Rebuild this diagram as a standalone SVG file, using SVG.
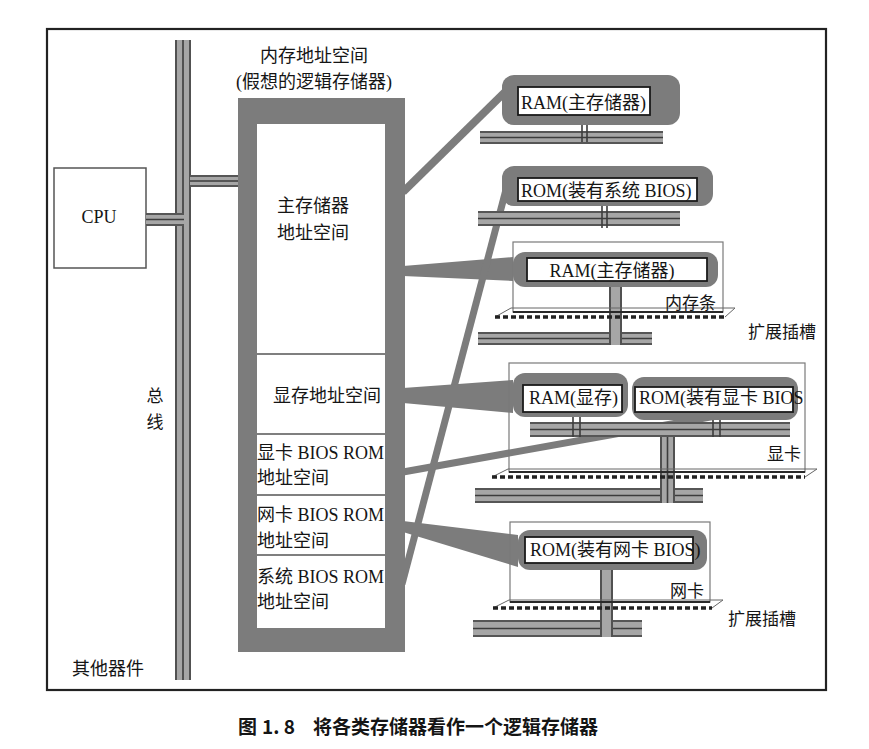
<svg xmlns="http://www.w3.org/2000/svg" width="869" height="749" viewBox="0 0 869 749">
<style>
.t{font-family:"Liberation Serif","Noto Sans CJK SC",serif;font-size:18px;fill:#151515}
.s{font-size:17px}
.cap{font-family:"Noto Sans CJK SC","Noto Sans",sans-serif;font-size:19px;font-weight:bold;fill:#151515}
.band{fill:#a6a6a6}
.dl{stroke:#3c3c3c;stroke-width:1.6;fill:none}
.grey{fill:#7c7c7c}
.gl{stroke:#7c7c7c;fill:none;stroke-linecap:butt}
.blob{fill:#7c7c7c}
.lab{fill:#fff;stroke:#1a1a1a;stroke-width:1.8}
.box{fill:none;stroke:#7a7a7a;stroke-width:1.2}
.edge{stroke:#2a2a2a;stroke-width:2}
.dash{stroke:#222;stroke-width:3.5;stroke-dasharray:5 3;fill:none}
.thin{stroke:#666;stroke-width:1;fill:none}
.div{stroke:#555;stroke-width:1.5}
</style>
<rect width="869" height="749" fill="#fff"/>
<rect x="47" y="29" width="779" height="661" fill="#fff" stroke="#222" stroke-width="2.2"/>

<!-- system bus -->
<g id="bus">
<rect class="band" x="175" y="40" width="16" height="640"/>
<path class="dl" d="M176,40V680M183,40V680M190,40V680"/>
<rect class="band" x="190" y="175" width="50" height="12"/>
<path class="dl" d="M190,176H240M190,181H240M190,186H240"/>
</g>

<g id="cpu">
<rect x="54" y="168" width="92" height="100" fill="#fff" stroke="#555" stroke-width="1.5"/>
<text class="t" x="99" y="223" text-anchor="middle">CPU</text>
</g>

<g id="connectors">
<!-- CPU to bus -->
<rect class="band" x="146" y="213" width="38" height="13"/>
<path class="dl" d="M146,214H184M146,219.5H184M146,225H184"/>
<!-- logical space to devices -->
<line class="gl" x1="403" y1="192" x2="505" y2="92" stroke-width="8"/>
<polygon class="grey" points="403,266 513,257 513,281 403,276"/>
<line class="gl" x1="507" y1="186" x2="402" y2="584" stroke-width="7"/>
<polygon class="grey" points="403,388 513,380 513,413 403,403"/>
<line class="gl" x1="403" y1="472" x2="716" y2="416" stroke-width="7"/>
<polygon class="grey" points="403,521 518,535 518,567 403,532"/>
</g>

<g id="logical-memory">
<path class="grey" fill-rule="evenodd" d="M238,98H405V652H238Z M257,124V628H385V124Z"/>
<path class="div" d="M257,354H385M257,434H385M257,495H385M257,555H385"/>
</g>

<g id="label-mem">
<text class="t" x="314" y="62" text-anchor="middle">内存地址空间</text>
<text class="t" x="314" y="88" text-anchor="middle">(假想的逻辑存储器)</text>
</g>
<g id="seg-main"><text class="t" x="313" y="212" text-anchor="middle">主存储器</text><text class="t" x="313" y="239" text-anchor="middle">地址空间</text></g>
<g id="seg-vram"><text class="t" x="273" y="402">显存地址空间</text></g>
<g id="seg-vbios"><text class="t" x="257" y="459">显卡 BIOS ROM</text><text class="t" x="257" y="484">地址空间</text></g>
<g id="seg-nbios"><text class="t" x="257" y="521">网卡 BIOS ROM</text><text class="t" x="257" y="547">地址空间</text></g>
<g id="seg-sbios"><text class="t" x="257" y="583">系统 BIOS ROM</text><text class="t" x="257" y="608">地址空间</text></g>

<g id="bus-label"><text class="t s" x="155" y="402" text-anchor="middle">总</text><text class="t s" x="155" y="428" text-anchor="middle">线</text></g>
<g id="others"><text class="t" x="72" y="675">其他器件</text></g>

<!-- RAM on board -->
<g id="ram-main">
<rect class="band" x="480" y="131" width="183" height="13"/>
<path class="dl" d="M480,132H663M480,137.5H663M480,143H663"/>
<path class="dl" d="M582,114V142M587,114V142"/>
<rect class="blob" x="502" y="75" width="178" height="50" rx="12"/>
<rect class="lab" x="518" y="87" width="132" height="28"/>
<text class="t" x="521" y="109">RAM(主存储器)</text>
</g>

<g id="rom-sys">
<rect class="band" x="478" y="211" width="202" height="15"/>
<path class="dl" d="M478,212H680M478,218.5H680M478,225H680"/>
<path class="dl" d="M602,200V228M607,200V228"/>
<rect class="blob" x="502" y="166" width="211" height="40" rx="12"/>
<rect class="lab" x="518" y="178" width="179" height="23"/>
<text class="t" x="521" y="197">ROM(装有系统 BIOS)</text>
</g>

<g id="dimm">
<rect class="band" x="478" y="332" width="174" height="13"/>
<path class="dl" d="M478,333H652M478,338.5H652M478,344H652"/>
<rect class="band" x="609" y="287" width="13" height="58"/>
<path class="dl" d="M610,287V345M621,287V345"/>
<rect class="box" x="513" y="242" width="210" height="70"/>
<path class="thin" d="M495,317L511,308H735L725,317"/>
<line class="edge" x1="513" y1="312" x2="723" y2="312"/>
<line class="dash" x1="495" y1="317" x2="725" y2="317"/>
<rect class="blob" x="513" y="252" width="205" height="35" rx="12"/>
<rect class="lab" x="527" y="258" width="180" height="23"/>
<text class="t" x="612" y="277" text-anchor="middle">RAM(主存储器)</text>
<text class="t s" x="665" y="309">内存条</text>
</g>
<g id="slot-label-1"><text class="t s" x="748" y="338">扩展插槽</text></g>

<g id="vga">
<rect class="band" x="475" y="488" width="228" height="15"/>
<path class="dl" d="M475,489H703M475,495.5H703M475,502H703"/>
<rect class="band" x="660" y="437" width="15" height="66"/>
<path class="dl" d="M661,437V503M667.5,437V503M674,437V503"/>
<rect class="box" x="509" y="363" width="296" height="109"/>
<path class="thin" d="M492,477L508,469H817L805,477"/>
<line class="edge" x1="509" y1="472" x2="805" y2="472"/>
<line class="dash" x1="492" y1="477" x2="805" y2="477"/>
<rect class="band" x="530" y="422" width="260" height="15"/>
<path class="dl" d="M530,423H790M530,429.5H790M530,436H790"/>
<path class="dl" d="M573,412V437M580,412V437M713,412V437M720,412V437"/>
<rect class="blob" x="513" y="373" width="115" height="44" rx="12"/>
<rect class="lab" x="523" y="385" width="99" height="27"/>
<text class="t" x="529" y="404">RAM(显存)</text>
<rect class="blob" x="632" y="377" width="166" height="43" rx="12"/>
<rect class="lab" x="635" y="387" width="158" height="25"/>
<text class="t" x="639" y="404">ROM(装有显卡 BIOS</text>
<text class="t s" x="767" y="460">显卡</text>
</g>

<g id="nic">
<rect class="band" x="473" y="620" width="169" height="17"/>
<path class="dl" d="M473,621H642M473,628.5H642M473,636H642"/>
<rect class="band" x="600" y="563" width="13" height="74"/>
<path class="dl" d="M601,563V637M612,563V637"/>
<rect class="box" x="510" y="522" width="200" height="80"/>
<path class="thin" d="M493,608L509,600H723L712,608"/>
<line class="edge" x1="510" y1="602" x2="710" y2="602"/>
<line class="dash" x1="493" y1="608" x2="712" y2="608"/>
<rect class="blob" x="518" y="530" width="189" height="40" rx="12"/>
<rect class="lab" x="525" y="537" width="168" height="26"/>
<text class="t" x="530" y="556">ROM(装有网卡 BIOS)</text>
<text class="t s" x="670" y="597">网卡</text>
</g>
<g id="slot-label-2"><text class="t s" x="728" y="625">扩展插槽</text></g>

<g id="caption">
<text class="cap" x="238" y="734">图</text>
<text class="cap" x="262" y="734">1. 8</text>
<text class="cap" x="313" y="734">将各类存储器看作一个逻辑存储器</text>
</g>
</svg>
